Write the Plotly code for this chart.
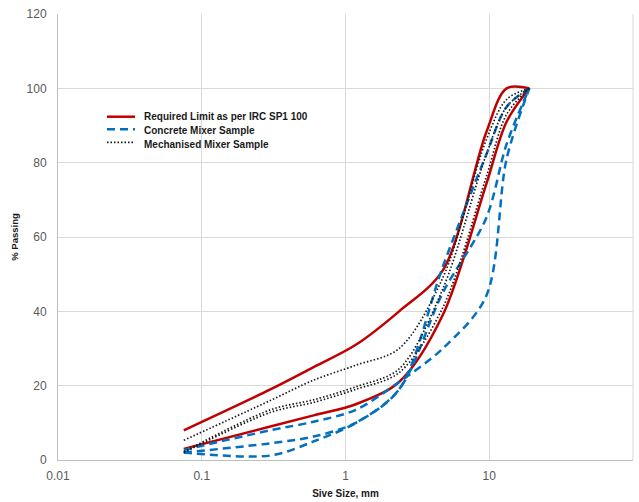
import plotly.graph_objects as go

sieve = [0.075, 0.3, 0.6, 1.18, 2.36, 4.75, 9.5, 13.2, 19]

red_upper = [8, 19, 25, 31, 40, 51, 88, 100, 100]
red_lower = [3, 9, 12, 15, 21, 39, 74, 91, 100]

blue_a = [2.7, 8, 10.3, 13.5, 21, 30, 44, 81, 100]
blue_b = [2, 4.5, 6.3, 10, 19, 45, 65, 85, 100]
blue_c = [2, 1.2, 5, 10, 19, 52, 82, 95, 100]

black_a = [5.3, 16, 21.5, 25.5, 30, 49, 86, 97, 100]
black_b = [2.2, 13.5, 16.2, 19.7, 24.5, 46, 82, 95, 100]
black_c = [2, 12.8, 15.5, 19, 23.5, 41, 76, 93, 100]

legend_names = ["Required Limit as per IRC SP1 100", "Concrete Mixer Sample", "Mechanised Mixer Sample"]

x_ticks = [0.01, 0.1, 1, 10, 100]
x_ticktext = ["0.01", "0.1", "1", "10", "100"]
y_ticks = [0, 20, 40, 60, 80, 100, 120]

RED = "#C00000"
BLUE = "#0070C0"
BLACK = "#1a1a1a"
RED_STYLE = dict(color=RED, dash="solid", width=2.5)
BLUE_STYLE = dict(color=BLUE, dash="8px,5px", width=2.5)
BLACK_STYLE = dict(color=BLACK, dash="1.5px,2px", width=1.7)

fig = go.Figure()

def add(y, style, name):
    fig.add_trace(go.Scatter(
        x=sieve, y=y, mode="lines", name=name, showlegend=False,
        line=dict(shape="spline", smoothing=0.9, **style),
        hoverinfo="skip"))

add(red_upper, RED_STYLE, legend_names[0])
add(red_lower, RED_STYLE, legend_names[0])
add(blue_a, BLUE_STYLE, legend_names[1])
add(blue_b, BLUE_STYLE, legend_names[1])
add(blue_c, BLUE_STYLE, legend_names[1])
add(black_a, BLACK_STYLE, legend_names[2])
add(black_b, BLACK_STYLE, legend_names[2])
add(black_c, BLACK_STYLE, legend_names[2])

# manual legend (layout decoration in paper coordinates)
leg_line_y = [0.7697, 0.7415, 0.7123]
leg_text_y = [0.7697, 0.7383, 0.7063]
for name, style, ly, ty in zip(legend_names, [RED_STYLE, BLUE_STYLE, BLACK_STYLE], leg_line_y, leg_text_y):
    fig.add_shape(type="line", xref="paper", yref="paper", x0=0.0852, x1=0.1339, y0=ly, y1=ly,
                  line=dict(color=style["color"], dash=style["dash"], width=style["width"]))
    fig.add_annotation(xref="paper", yref="paper", x=0.1461, y=ty, xanchor="left", yanchor="middle",
                       text="<b>" + name + "</b>", showarrow=False,
                       font=dict(family="Liberation Sans, Arial, sans-serif", size=10, color="#1a1a1a"))

fig.update_layout(
    width=639, height=502,
    margin=dict(l=58, r=6, t=14, b=42),
    paper_bgcolor="white", plot_bgcolor="white",
    font=dict(family="Liberation Sans, Arial, sans-serif", color="#595959", size=12),
    showlegend=False,
)

fig.update_xaxes(
    type="log", range=[-2, 2],
    tickvals=x_ticks, ticktext=x_ticktext,
    showgrid=True, gridcolor="#D9D9D9", gridwidth=1,
    showline=True, linecolor="#BFBFBF", linewidth=1,
    ticks="outside", ticklen=5, tickcolor="rgba(0,0,0,0)",
    zeroline=False,
    title=dict(text="<b>Sive Size, mm</b>", standoff=7,
               font=dict(size=10, color="#1a1a1a", family="Liberation Sans, Arial, sans-serif")),
)
fig.update_yaxes(
    range=[0, 120], tickvals=y_ticks,
    showgrid=True, gridcolor="#D9D9D9", gridwidth=1,
    showline=True, linecolor="#BFBFBF", linewidth=1,
    ticks="outside", ticklen=8, tickcolor="rgba(0,0,0,0)",
    zeroline=False,
    title=dict(text="<b>% Passing</b>", standoff=6,
               font=dict(size=9.5, color="#1a1a1a", family="Liberation Sans, Arial, sans-serif")),
)

fig.add_shape(type="line", xref="paper", yref="paper", x0=1, x1=1, y0=0, y1=1,
              line=dict(color="#D9D9D9", width=1))

fig.write_html("out.html")
